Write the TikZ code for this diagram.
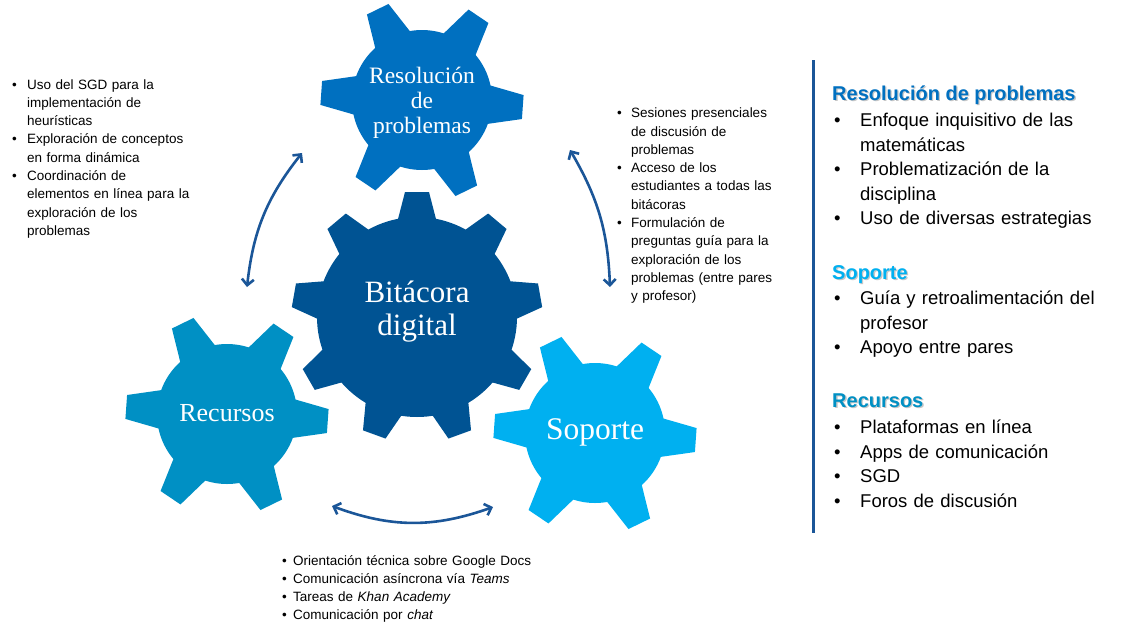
\documentclass[tikz,border=0pt]{standalone}
\usepackage{fontspec}
\setsansfont{Liberation Sans}
\newfontfamily\gearfont{Liberation Serif}
\usetikzlibrary{arrows.meta}

\definecolor{resolblue}{RGB}{0,112,192}
\definecolor{bitacblue}{RGB}{0,83,147}
\definecolor{recurblue}{RGB}{0,144,196}
\definecolor{soporblue}{RGB}{0,176,240}
\definecolor{arrowblue}{RGB}{27,86,152}

% list item with hanging indent
\newcommand{\bul}[2][15pt]{\noindent\hangindent=#1\hangafter=1\makebox[#1][l]{\textbullet}#2\par}
% heading with a soft drop shadow
\newcommand{\shadowed}[1]{\makebox[0pt][l]{\kern1.3pt\raisebox{-1.3pt}{\color{black!22}#1}}#1}

\begin{document}
\begin{tikzpicture}[x=1pt,y=-1pt,
    pics/cog/.style n args={5}{code={
        \fill[#5] (0,0) circle (#2);
        \foreach \k in {1,...,#1}
            \fill[#5, rotate=#4+\k*360/#1] (#2-4,-19.5) -- (#3,-12) -- (#3,12) -- (#2-4,19.5) -- cycle;
    }},
    gearlabel/.style={text=white, align=center, inner sep=0pt},
    linkarrow/.style={draw=arrowblue, line width=2.6pt,
        {Straight Barb[length=6pt,width=12pt]}-{Straight Barb[length=6pt,width=12pt]}},
    smalllist/.style={anchor=base west, inner sep=0pt, align=left,
        font=\sffamily\fontsize{13.5}{18.3}\selectfont},
    biglist/.style={anchor=base west, inner sep=0pt, align=left, text width=300pt,
        font=\sffamily\fontsize{18.5}{24.5}\selectfont},
    heading/.style={anchor=base west, inner sep=0pt,
        font=\sffamily\bfseries\fontsize{20}{24}\selectfont}]
    \useasboundingbox (0,0) rectangle (1122,624);

    % gears
    \pic at (422,100) {cog={6}{70}{101}{-4}{resolblue}};
    \pic at (227,414) {cog={6}{70}{101}{-4}{recurblue}};
    \pic at (595,433) {cog={6}{70}{101}{-4}{soporblue}};
    \pic at (417,317) {cog={9}{100}{125}{50}{bitacblue}};

    \node[gearlabel, font=\gearfont\fontsize{23.5}{25}\selectfont] (resol) at (422,103) {Resolución\\de\\problemas};
    \node[gearlabel, font=\gearfont\fontsize{31}{33}\selectfont] (bitac) at (417,312) {Bitácora\\digital};
    \node[gearlabel, font=\gearfont\fontsize{26}{28}\selectfont] (recur) at (227,413) {Recursos};
    \node[gearlabel, font=\gearfont\fontsize{31.5}{33}\selectfont] (sopor) at (595,432) {Soporte};

    % arrows between the gears
    \coordinate (a1) at (247,287);
    \coordinate (a2) at (302,153);
    \coordinate (b1) at (570,150);
    \coordinate (b2) at (610,287);
    \coordinate (c1) at (332,506);
    \coordinate (c2) at (493,507);
    \draw[linkarrow] (a1) to[bend left=16] (a2);
    \draw[linkarrow] (b1) to[bend left=14] (b2);
    \draw[linkarrow] (c1) to[bend right=20] (c2);

    % notes around the gears
    \node[smalllist, text width=210pt] (nresol) at (12,89) {%
        \bul{Uso del SGD para la\newline implementación de\newline heurísticas}
        \bul{Exploración de conceptos\newline en forma dinámica}
        \bul{Coordinación de\newline elementos en línea para la\newline exploración de los\newline problemas}};
    \node[smalllist, text width=190pt] (nsopor) at (617,117.7) {%
        \bul[14pt]{Sesiones presenciales\newline de discusión de\newline problemas}
        \bul[14pt]{Acceso de los\newline estudiantes a todas las\newline bitácoras}
        \bul[14pt]{Formulación de\newline preguntas guía para la\newline exploración de los\newline problemas (entre pares\newline y profesor)}};
    \node[smalllist, text width=300pt] (nrecur) at (282,565) {%
        \bul[11pt]{Orientación técnica sobre Google Docs}
        \bul[11pt]{Comunicación asíncrona vía \textit{Teams}}
        \bul[11pt]{Tareas de \textit{Khan Academy}}
        \bul[11pt]{Comunicación por \textit{chat}}};

    % summary panel
    \draw[arrowblue, line width=3pt] (813,60) -- (813,533);
    \node[heading, text=resolblue] (hresol) at (832,100) {\shadowed{Resolución de problemas}};
    \node[biglist] (lresol) at (834,126.5) {%
        \bul[26pt]{Enfoque inquisitivo de las\newline matemáticas}
        \bul[26pt]{Problematización de la\newline disciplina}
        \bul[26pt]{Uso de diversas estrategias}};
    \node[heading, text=soporblue] (hsopor) at (832,279) {\shadowed{Soporte}};
    \node[biglist] (lsopor) at (834,304.5) {%
        \bul[26pt]{Guía y retroalimentación del\newline profesor}
        \bul[26pt]{Apoyo entre pares}};
    \node[heading, text=recurblue] (hrecur) at (832,407) {\shadowed{Recursos}};
    \node[biglist] (lrecur) at (834,433.5) {%
        \bul[26pt]{Plataformas en línea}
        \bul[26pt]{Apps de comunicación}
        \bul[26pt]{SGD}
        \bul[26pt]{Foros de discusión}};
\end{tikzpicture}
\end{document}
